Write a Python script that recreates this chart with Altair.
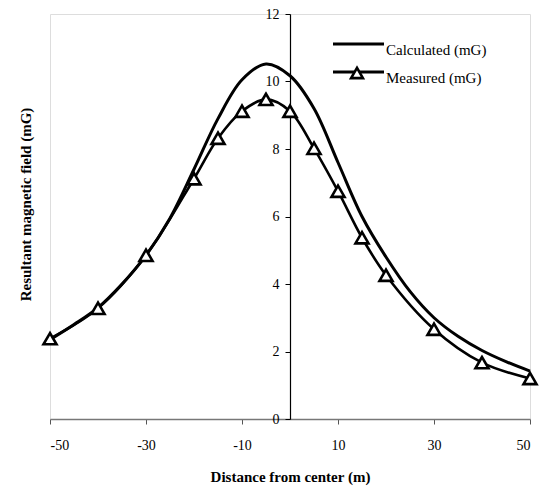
import altair as alt
import pandas as pd

# ---- data ----
x_calc = [-50, -45, -40, -35, -30, -25, -20, -15, -10, -5, 0, 5, 10, 15, 20, 25, 30, 35, 40, 45, 50]
y_calc = [2.35, 2.8, 3.3, 4.0, 4.85, 5.95, 7.4, 8.9, 10.05, 10.52, 10.17, 9.2, 7.6, 6.0, 4.8, 3.78, 3.0, 2.45, 2.03, 1.7, 1.42]

x_meas = [-50, -40, -30, -20, -15, -10, -5, 0, 5, 10, 15, 20, 30, 40, 50]
y_meas = [2.38, 3.28, 4.85, 7.12, 8.32, 9.12, 9.47, 9.12, 8.02, 6.75, 5.37, 4.26, 2.66, 1.67, 1.2]

x_ticks = [-50, -30, -10, 10, 30, 50]
y_ticks = [0, 2, 4, 6, 8, 10, 12]
legend_labels = ["Calculated (mG)", "Measured (mG)"]

FONT = "Liberation Serif"
W, H = 480, 405

calc_df = pd.DataFrame({"x": x_calc, "y": y_calc})
meas_df = pd.DataFrame({"x": x_meas, "y": y_meas})

xscale = alt.Scale(domain=[-50, 50], nice=False, zero=False)
yscale = alt.Scale(domain=[0, 12], nice=False)

xaxis = alt.Axis(
    values=x_ticks, title="Distance from center (m)", grid=False,
    labelExpr="'' + datum.value", labelFont=FONT, labelFontSize=14, labelColor="black",
    labelPadding=14, tickSize=5, tickColor="#555", domainColor="#777", domainWidth=1.5,
    titleFont=FONT, titleFontSize=15, titleFontWeight="bold", titleColor="black",
    titlePadding=17,
)
yaxis = alt.Axis(
    values=y_ticks, title="Resultant magnetic field (mG)", grid=False, orient="left",
    offset=-240, labelFont=FONT, labelFontSize=14, labelColor="black", labelPadding=6,
    tickSize=5, tickColor="black", domainColor="black", domainWidth=1.2,
    titleFont=FONT, titleFontSize=15, titleFontWeight="bold", titleColor="black",
    titleX=-265, titleY=190, titleBaseline="middle",
)

calc_line = alt.Chart(calc_df).mark_line(
    color="black", strokeWidth=3, interpolate="catmull-rom"
).encode(
    x=alt.X("x:Q", scale=xscale, axis=xaxis),
    y=alt.Y("y:Q", scale=yscale, axis=yaxis),
)

meas_line = alt.Chart(meas_df).mark_line(
    color="black", strokeWidth=2.6, interpolate="catmull-rom"
).encode(
    x=alt.X("x:Q", scale=xscale),
    y=alt.Y("y:Q", scale=yscale),
)

meas_pts = alt.Chart(meas_df).mark_point(
    shape="triangle-up", size=170, filled=False, fill="white", fillOpacity=1,
    stroke="black", strokeWidth=2.6, opacity=1,
).encode(
    x=alt.X("x:Q", scale=xscale),
    y=alt.Y("y:Q", scale=yscale),
)

# ---- manual legend ----
one = pd.DataFrame({"a": [0]})
leg_layers = []
for i, lab in enumerate(legend_labels):
    ly = 30 + 28 * i
    leg_layers.append(
        alt.Chart(one).mark_rule(color="black", strokeWidth=3).encode(
            x=alt.value(283), x2=alt.value(334), y=alt.value(ly)
        )
    )
    leg_layers.append(
        alt.Chart(one).mark_text(
            align="left", baseline="middle", font=FONT, fontSize=15, color="black"
        ).encode(x=alt.value(336), y=alt.value(ly + 6), text=alt.value(lab))
    )
leg_layers.append(
    alt.Chart(one).mark_point(
        shape="triangle-up", size=140, filled=False, fill="white", fillOpacity=1,
        stroke="black", strokeWidth=2.6, opacity=1,
    ).encode(x=alt.value(307), y=alt.value(30 + 28 + 1))
)

chart = alt.layer(calc_line, meas_line, meas_pts, *leg_layers).properties(
    width=W, height=H,
    autosize=alt.AutoSizeParams(type="none"),
    padding={"left": 50, "top": 14, "right": 10, "bottom": 70},
).configure_view(stroke=None).configure(background="white")

chart.save("out.html", embed_options={"renderer": "svg", "actions": False})
